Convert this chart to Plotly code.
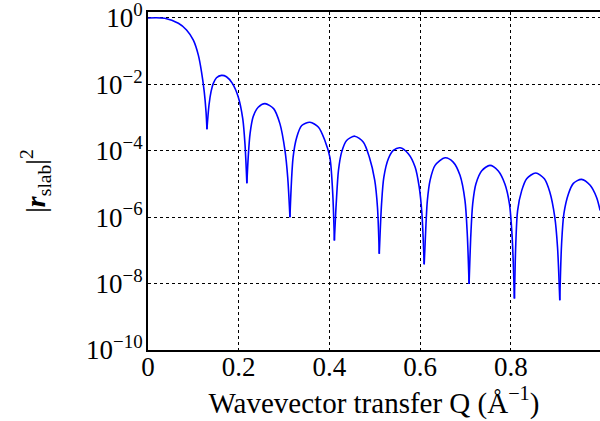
import numpy as np
import plotly.graph_objects as go

# Wavevector transfer Q (1/Angstrom) and log10 |r_slab|^2
q = [0.000, 0.037, 0.067, 0.085, 0.100, 0.111, 0.118, 0.124, 0.128, 0.130,
     0.1345, 0.139, 0.144, 0.151, 0.162, 0.173, 0.186, 0.199, 0.209, 0.214, 0.218,
     0.221, 0.225, 0.232, 0.243, 0.258, 0.277, 0.291, 0.302, 0.308, 0.313,
     0.320, 0.328, 0.339, 0.357, 0.376, 0.390, 0.401, 0.407, 0.411,
     0.415, 0.420, 0.427, 0.438, 0.456, 0.475, 0.488, 0.500, 0.506, 0.510,
     0.515, 0.520, 0.530, 0.541, 0.556, 0.574, 0.589, 0.598, 0.604, 0.609,
     0.613, 0.616, 0.622, 0.633, 0.655, 0.673, 0.688, 0.699, 0.704, 0.708,
     0.712, 0.716, 0.723, 0.736, 0.754, 0.772, 0.787, 0.797, 0.803, 0.808,
     0.811, 0.815, 0.824, 0.835, 0.855, 0.874, 0.886, 0.897, 0.903, 0.908,
     0.912, 0.917, 0.927, 0.938, 0.956, 0.975, 0.989, 0.997]
log10_r2 = [0.00, -0.01, -0.16, -0.36, -0.67, -1.12, -1.62, -2.22, -2.83, -3.35,
            -2.62, -2.22, -1.97, -1.80, -1.73, -1.77, -1.97, -2.38, -3.04, -3.83, -4.98,
            -4.19, -3.49, -2.97, -2.69, -2.58, -2.73, -3.19, -3.99, -4.79, -6.00,
            -4.19, -3.59, -3.24, -3.14, -3.29, -3.69, -4.19, -5.19, -6.70,
            -5.60, -4.59, -4.04, -3.69, -3.56, -3.74, -4.19, -4.89, -5.70, -7.10,
            -5.60, -4.80, -4.24, -3.99, -3.91, -4.09, -4.49, -5.09, -5.89, -7.42,
            -6.20, -5.50, -4.89, -4.44, -4.21, -4.34, -4.74, -5.50, -6.50, -8.01,
            -6.50, -5.60, -5.00, -4.60, -4.44, -4.60, -5.00, -5.60, -6.60, -8.45,
            -6.80, -5.80, -5.20, -4.84, -4.67, -4.84, -5.24, -6.00, -6.90, -8.50,
            -6.80, -5.90, -5.30, -4.98, -4.86, -5.04, -5.40, -5.80]
r2 = [10.0 ** v for v in log10_r2]

x_ticks = [0, 0.2, 0.4, 0.6, 0.8, 1.0]
x_tick_labels = ["0", "0.2", "0.4", "0.6", "0.8", "1"]
y_ticks = [1e0, 1e-2, 1e-4, 1e-6, 1e-8, 1e-10]
y_tick_labels = ["10<sup>0</sup>", "10<sup>−2</sup>", "10<sup>−4</sup>",
                 "10<sup>−6</sup>", "10<sup>−8</sup>", "10<sup>−10</sup>"]

font_family = "Liberation Serif, Times New Roman, serif"

# split the curve at its sharp minima so each fringe is drawn as a smooth arch
minima = [i for i in range(1, len(log10_r2) - 1)
          if log10_r2[i] < log10_r2[i - 1] and log10_r2[i] < log10_r2[i + 1]]
bounds = [0] + minima + [len(q) - 1]

fig = go.Figure()
for a, b in zip(bounds[:-1], bounds[1:]):
    fig.add_trace(go.Scatter(x=q[a:b + 1], y=r2[a:b + 1], mode="lines",
                             line=dict(color="#0000ff", width=1.6, shape="spline", smoothing=0.8),
                             showlegend=False, hoverinfo="skip"))

fig.update_layout(
    width=600, height=421,
    margin=dict(l=148, r=0, t=12, b=71),
    paper_bgcolor="white", plot_bgcolor="white",
    font=dict(family=font_family, size=27, color="black"),
)
fig.update_xaxes(
    range=[0, 0.9967],
    tickvals=x_ticks, ticktext=x_tick_labels,
    showgrid=True, gridcolor="black", griddash="dot", gridwidth=1,
    showline=True, linecolor="black", linewidth=2, mirror=True,
    ticks="", zeroline=False,
    tickfont=dict(size=27),
    ticklabelstandoff=-8,
    ticklabeloverflow="allow",
    title=dict(text="Wavevector transfer Q (Å<sup>−1</sup>)", font=dict(size=29), standoff=0),
    automargin=False,
)
fig.update_yaxes(
    type="log", range=[-10, 0.18],
    tickvals=y_ticks, ticktext=y_tick_labels,
    showgrid=True, gridcolor="black", griddash="dot", gridwidth=1,
    showline=True, linecolor="black", linewidth=2, mirror=True,
    ticks="", zeroline=False,
    tickfont=dict(size=27),
    ticklabeloverflow="allow",
    ticklabelstandoff=-2,
    title=dict(text="|<i><b>r</b></i><sub>slab</sub>|<sup>2</sup>", font=dict(size=28), standoff=32),
    automargin=False,
)

fig.write_html("out.html")
